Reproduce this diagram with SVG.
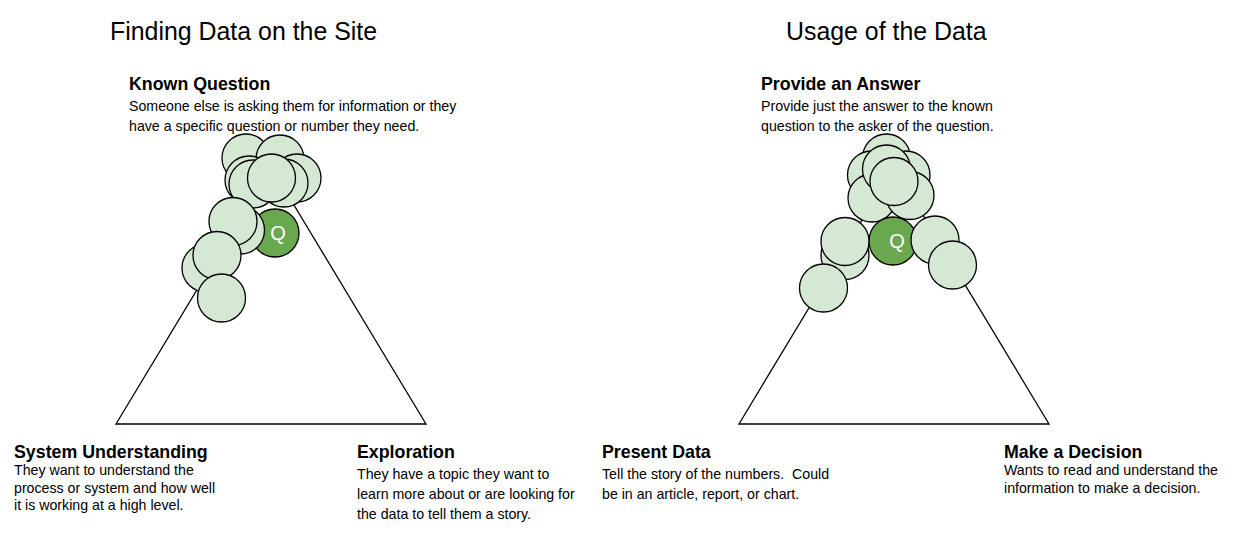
<svg xmlns="http://www.w3.org/2000/svg" width="1239" height="539" viewBox="0 0 1239 539">
<style>
text{font-family:"Liberation Sans",Arial,sans-serif;fill:#000}
.title{font-size:24.9px}
.head{font-size:17.8px;font-weight:bold}
.desc{font-size:14.2px}
.c{fill:#d5e8d4;stroke:#000;stroke-width:1.3}
.q{fill:#6aa84f;stroke:#000;stroke-width:1.3}
.qt{font-size:20px;fill:#fff;text-anchor:middle}
.tri{fill:none;stroke:#000;stroke-width:1.3}
</style>
<rect width="1239" height="539" fill="#fff"/>
<g id="left-title"><text class="title" x="110" y="40">Finding Data on the Site</text></g>
<g id="right-title"><text class="title" x="786" y="40">Usage of the Data</text></g>

<g id="connectors">
<polygon id="left-triangle" class="tri" points="271,167 426,424 116,424"/>
<polygon id="right-triangle" class="tri" points="894,167 1049,424 739,424"/>
</g>

<g id="known-question">
<text class="head" x="129" y="90">Known Question</text>
<text class="desc" x="129" y="111">Someone else is asking them for information or they</text>
<text class="desc" x="129" y="131">have a specific question or number they need.</text>
</g>
<g id="system-understanding">
<text class="head" x="14" y="458">System Understanding</text>
<text class="desc" x="14" y="475">They want to understand the</text>
<text class="desc" x="14" y="492.5">process or system and how well</text>
<text class="desc" x="14" y="510">it is working at a high level.</text>
</g>
<g id="exploration">
<text class="head" x="357" y="458">Exploration</text>
<text class="desc" x="357" y="479">They have a topic they want to</text>
<text class="desc" x="357" y="499">learn more about or are looking for</text>
<text class="desc" x="357" y="519">the data to tell them a story.</text>
</g>
<g id="provide-answer">
<text class="head" x="761" y="90">Provide an Answer</text>
<text class="desc" x="761" y="111">Provide just the answer to the known</text>
<text class="desc" x="761" y="131">question to the asker of the question.</text>
</g>
<g id="present-data">
<text class="head" x="602" y="458">Present Data</text>
<text class="desc" x="602" y="479">Tell the story of the numbers.&#160; Could</text>
<text class="desc" x="602" y="499">be in an article, report, or chart.</text>
</g>
<g id="make-decision">
<text class="head" x="1004" y="458">Make a Decision</text>
<text class="desc" x="1004" y="475">Wants to read and understand the</text>
<text class="desc" x="1004" y="492.5">information to make a decision.</text>
</g>

<g id="left-cluster">
<circle class="c" cx="246" cy="158" r="24"/>
<circle class="c" cx="280" cy="159" r="24"/>
<circle class="c" cx="297" cy="178" r="24"/>
<circle class="c" cx="249" cy="180" r="24"/>
<circle class="c" cx="253" cy="184" r="24"/>
<circle class="c" cx="284" cy="183" r="24"/>
<circle class="c" cx="271.5" cy="178" r="24"/>
<g id="left-q"><circle class="q" cx="275" cy="233" r="24"/><text class="qt" x="278" y="240">Q</text></g>
<circle class="c" cx="240.5" cy="230" r="24"/>
<circle class="c" cx="233" cy="221.5" r="24"/>
<circle class="c" cx="206" cy="268" r="24"/>
<circle class="c" cx="217" cy="255.5" r="24"/>
<circle class="c" cx="221.5" cy="298" r="24"/>
</g>

<g id="right-cluster">
<circle class="c" cx="886.5" cy="158" r="24"/>
<circle class="c" cx="871.5" cy="175" r="24"/>
<circle class="c" cx="906" cy="175" r="24"/>
<circle class="c" cx="872" cy="198" r="24"/>
<circle class="c" cx="910" cy="195.5" r="24"/>
<circle class="c" cx="886.5" cy="169" r="24"/>
<circle class="c" cx="894" cy="181.5" r="24"/>
<g id="right-q"><circle class="q" cx="893" cy="241" r="24"/><text class="qt" x="897" y="248">Q</text></g>
<circle class="c" cx="845" cy="255.5" r="24"/>
<circle class="c" cx="845" cy="241.5" r="24"/>
<circle class="c" cx="823.5" cy="288" r="24"/>
<circle class="c" cx="935" cy="240" r="24"/>
<circle class="c" cx="952.5" cy="265" r="24"/>
</g>
</svg>
